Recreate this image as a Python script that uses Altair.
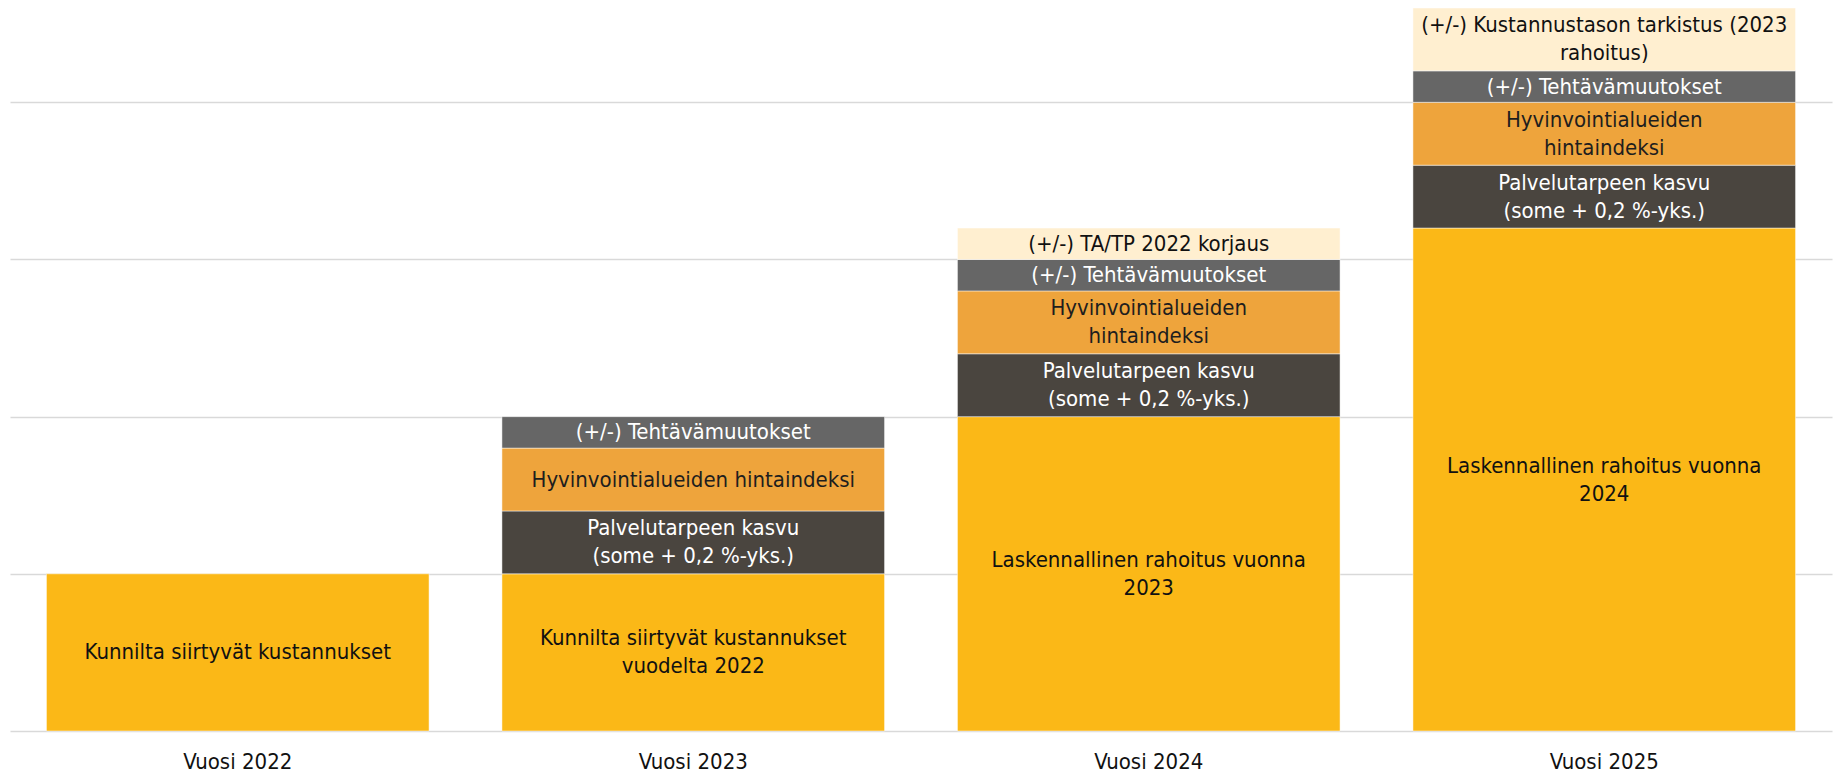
import altair as alt
import pandas as pd

FONT = "DejaVu Sans Condensed, Liberation Sans Narrow, sans-serif"

years = ["Vuosi 2022", "Vuosi 2023", "Vuosi 2024", "Vuosi 2025"]

segment_types = ["perus", "palvelutarve", "hintaindeksi", "tehtavat", "tarkistus"]
segment_colors = ["#FBB817", "#4A453F", "#EEA43C", "#666666", "#FFEFD0"]
text_colors = ["#111111", "#FFFFFF", "#1E1E1E", "#FFFFFF", "#111111"]

values_2022 = [1.0]
values_2023 = [1.0, 0.4, 0.4, 0.2]
values_2024 = [2.0, 0.4, 0.4, 0.2, 0.2]
values_2025 = [3.2, 0.4, 0.4, 0.2, 0.4]

labels_2022 = ["Kunnilta siirtyvät kustannukset"]
labels_2023 = [
    "Kunnilta siirtyvät kustannukset\nvuodelta 2022",
    "Palvelutarpeen kasvu\n(some + 0,2 %-yks.)",
    "Hyvinvointialueiden hintaindeksi",
    "(+/-) Tehtävämuutokset",
]
labels_2024 = [
    "Laskennallinen rahoitus vuonna\n2023",
    "Palvelutarpeen kasvu\n(some + 0,2 %-yks.)",
    "Hyvinvointialueiden\nhintaindeksi",
    "(+/-) Tehtävämuutokset",
    "(+/-) TA/TP 2022 korjaus",
]
labels_2025 = [
    "Laskennallinen rahoitus vuonna\n2024",
    "Palvelutarpeen kasvu\n(some + 0,2 %-yks.)",
    "Hyvinvointialueiden\nhintaindeksi",
    "(+/-) Tehtävämuutokset",
    "(+/-) Kustannustason tarkistus (2023\nrahoitus)",
]

rows = []
for year, vals, labs in zip(
    years,
    [values_2022, values_2023, values_2024, values_2025],
    [labels_2022, labels_2023, labels_2024, labels_2025],
):
    for i, (v, l) in enumerate(zip(vals, labs)):
        rows.append({
            "year": year, "type": segment_types[i], "order": i, "value": v,
            "label": l, "lines": l.count("\n") + 1,
        })
df = pd.DataFrame(rows)

LINE_H = 28

x = alt.X(
    "year:N",
    sort=years,
    title=None,
    scale=alt.Scale(paddingInner=0.16, paddingOuter=0.08),
    axis=alt.Axis(
        labelAngle=0, domain=False, ticks=False, tickSize=0, labelPadding=20,
        labelFont=FONT, labelFontSize=22, labelColor="#111111", grid=False,
    ),
)

base = alt.Chart(df).transform_stack(
    stack="value", groupby=["year"], as_=["y0", "y1"],
    sort=[alt.SortField("order", order="ascending")],
).transform_calculate(mid="(datum.y0 + datum.y1) / 2")

bars = base.mark_bar(stroke="#FFFFFF", strokeWidth=0.8, strokeOpacity=0.6).encode(
    x=x,
    y=alt.Y(
        "y0:Q", title=None,
        scale=alt.Scale(domain=[0, 4.6], nice=False, zero=True),
        axis=alt.Axis(
            values=[0, 1, 2, 3, 4], labels=False, ticks=False, domain=False,
            grid=True, gridColor="#D9D9D9", gridWidth=1.6,
        ),
    ),
    y2="y1:Q",
    color=alt.Color("type:N", scale=alt.Scale(domain=segment_types, range=segment_colors), legend=None),
)


def text_layer(n_lines):
    return base.transform_filter(alt.datum.lines == n_lines).mark_text(
        font=FONT, fontSize=22, lineBreak="\n", lineHeight=LINE_H,
        align="center", baseline="middle", dy=-(n_lines - 1) * LINE_H / 2,
    ).encode(
        x=alt.X("year:N", sort=years),
        y=alt.Y("mid:Q"),
        text="label:N",
        color=alt.Color("type:N", scale=alt.Scale(domain=segment_types, range=text_colors), legend=None),
    )


chart = (
    alt.layer(bars, text_layer(1), text_layer(2))
    .resolve_scale(color="independent")
    .properties(
        width=1822, height=723,
        autosize=alt.AutoSizeParams(type="none"),
        padding={"left": 10, "top": 8, "right": 3, "bottom": 44},
        background="#FFFFFF",
    )
    .configure_view(strokeWidth=0, stroke="transparent")
)

chart.save("out.html", embed_options={"renderer": "svg", "actions": False})
